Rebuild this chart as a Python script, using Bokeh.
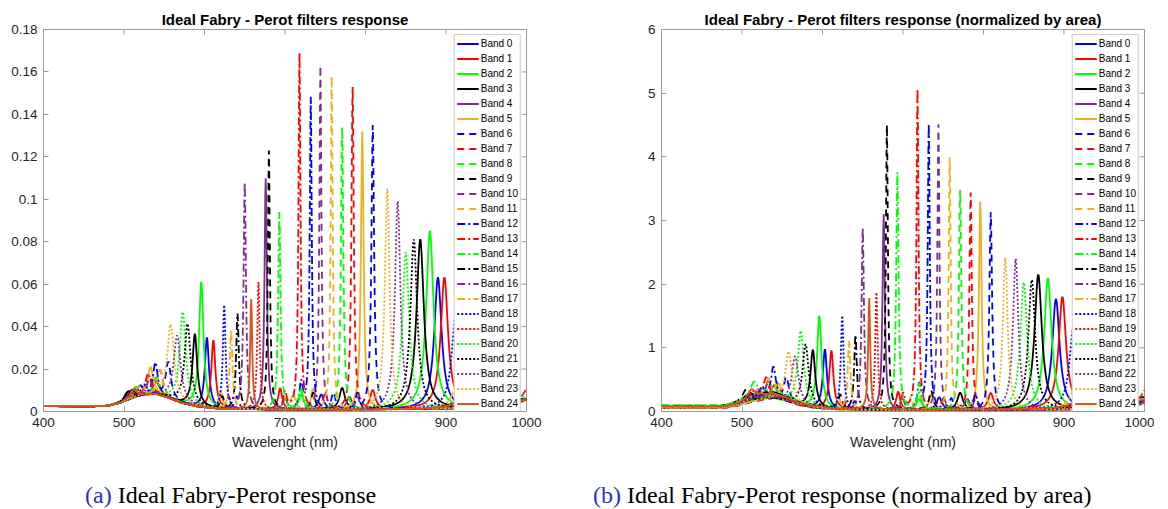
import numpy as np
from bokeh.plotting import figure
from bokeh.models import Legend, LegendItem, FixedTicker, Range1d, Div
from bokeh.layouts import column, row
from bokeh.embed import file_html
from bokeh.resources import INLINE

# ---------------- data ----------------
bands = [f"Band {i}" for i in range(25)]

BLUE, RED, GREEN, BLACK, PURPLE, ORANGE, ORED = ("#0000FF", "#FF0000", "#00FF00", "#000000",
                                                "#7E2F8E", "#EDB120", "#D95319")
band_colors = [BLUE, RED, GREEN, BLACK, PURPLE, ORANGE] * 4 + [ORED]
band_styles = (["solid"] * 6 + ["dashed"] * 6 + ["dashdot"] * 6 + ["dotted"] * 6 + ["solid"])

# peak centres (nm), peak heights (panel a) and widths (nm) per band
peak_wl = [
    [520, 603, 745, 890],
    [540, 611, 694, 809, 898],
    [515, 596, 720, 880],
    [510, 588, 771, 868],
    [507, 676, 780, 953],
    [533, 620, 735, 796],
    [555, 640, 760, 809],
    [545, 630, 750, 784],
    [540, 700, 771],
    [505, 622, 680, 735, 960],
    [532, 700, 744, 790],
    [545, 710, 758, 918],
    [539, 720, 732, 790],
    [530, 700, 718, 1008],
    [515, 693, 720, 975],
    [505, 641, 928],
    [512, 650, 938],
    [520, 633, 920],
    [525, 624.5, 912],
    [515, 667, 943],
    [573, 720, 850],
    [579, 860],
    [566, 840],
    [558, 827],
    [512, 658, 934],
]
peak_h = [
    [0.005, 0.033, 0.007, 0.062],
    [0.006, 0.032, 0.010, 0.009, 0.062],
    [0.004, 0.059, 0.007, 0.084],
    [0.004, 0.034, 0.010, 0.080],
    [0.004, 0.109, 0.006, 0.034],
    [0.013, 0.008, 0.010, 0.131],
    [0.017, 0.006, 0.008, 0.134],
    [0.012, 0.006, 0.008, 0.152],
    [0.008, 0.006, 0.133],
    [0.004, 0.006, 0.122, 0.008, 0.028],
    [0.008, 0.006, 0.162, 0.006],
    [0.012, 0.008, 0.157, 0.010],
    [0.015, 0.012, 0.147, 0.008],
    [0.010, 0.008, 0.168, 0.012],
    [0.005, 0.093, 0.010, 0.018],
    [0.004, 0.045, 0.035],
    [0.004, 0.107, 0.033],
    [0.005, 0.037, 0.035],
    [0.005, 0.049, 0.044],
    [0.004, 0.060, 0.036],
    [0.043, 0.010, 0.074],
    [0.038, 0.080],
    [0.031, 0.098],
    [0.035, 0.104],
    [0.004, 0.052, 0.039],
]
peak_w = [
    [10, 6, 8, 11],
    [10, 6, 6, 8, 11],
    [10, 6.5, 8, 11],
    [10, 7, 8, 11],
    [10, 3.5, 8, 14],
    [8, 6, 6, 4],
    [8, 6, 6, 4],
    [8, 6, 6, 3.5],
    [8, 6, 3.5],
    [10, 6, 3, 6, 14],
    [8, 6, 3, 6],
    [8, 6, 3, 12],
    [7, 5, 3, 6],
    [8, 5, 3, 15],
    [10, 3.5, 5, 15],
    [10, 4, 12],
    [10, 3.5, 13],
    [10, 4, 12],
    [10, 4, 12],
    [10, 3.5, 13],
    [9, 8, 10],
    [9, 10],
    [10, 8],
    [10, 7],
    [10, 3, 13],
]
# scale from panel (a) to panel (b) (1 / area of each band)
norm_factor = [28, 28.5, 24.6, 26.5, 28.2, 25, 23.2, 22.5, 26, 36.6, 27.7, 25.3, 30.5,
               30, 40, 26, 26.7, 29, 30, 30.7, 27, 25.5, 24.2, 23, 33.6]

# common background level (panel a)
bg_wl = [400, 460, 480, 495, 510, 525, 540, 555, 570, 590, 620, 700, 800, 900, 950, 980, 1000]
bg_val = [0.0025, 0.0024, 0.0026, 0.004, 0.0062, 0.0078, 0.0082, 0.0065, 0.0042, 0.0024,
          0.0012, 0.0008, 0.0009, 0.0012, 0.002, 0.003, 0.0055]

x_ticks = [400, 500, 600, 700, 800, 900, 1000]
y_ticks_a = [0, 0.02, 0.04, 0.06, 0.08, 0.1, 0.12, 0.14, 0.16, 0.18]
y_labels_a = ["0", "0.02", "0.04", "0.06", "0.08", "0.1", "0.12", "0.14", "0.16", "0.18"]
y_ticks_b = [0, 1, 2, 3, 4, 5, 6]

title_a = "Ideal Fabry - Perot filters response"
title_b = "Ideal Fabry - Perot filters response (normalized by area)"
x_label = "Wavelenght (nm)"

# ---------------- styling ----------------
FONT = "Liberation Sans"
AXIS_GREY = "#9a9a9a"
TEXT = "#262626"
dash_map = {"solid": "solid", "dashed": "7 5", "dashdot": "8 3 2 3", "dotted": "2 2"}
FW, FH = 483, 382
TICK = 5

wl = np.linspace(400, 1000, 1201)
background = np.interp(wl, bg_wl, bg_val)


def band_curve(i):
    y = background.copy()
    for c, h, w in zip(peak_wl[i], peak_h[i], peak_w[i]):
        y = y + h / (1.0 + ((wl - c) / (w / 2.0)) ** 2)
    return y


def style_axis(ax):
    ax.axis_line_color = AXIS_GREY
    ax.major_tick_line_color = AXIS_GREY
    ax.minor_tick_line_color = None
    ax.major_tick_in = TICK
    ax.major_tick_out = 0
    ax.major_label_text_font = FONT
    ax.major_label_text_font_size = "13.5px"
    ax.major_label_text_color = TEXT
    ax.major_label_standoff = 6


def make_panel(title, ymax, yticks, ylabels, scale, border_left, border_right):
    p = figure(frame_width=FW, frame_height=FH, output_backend="svg", toolbar_location=None,
               x_range=Range1d(400, 1000), y_range=Range1d(0, ymax),
               min_border_left=border_left, min_border_right=border_right,
               min_border_top=29, min_border_bottom=40)
    p.title.text = title
    p.title.align = "center"
    p.title.offset = -18
    p.title.text_font = FONT
    p.title.text_font_size = "15px"
    p.title.text_font_style = "bold"
    p.title.text_color = "#000000"
    p.title.standoff = 4
    p.grid.visible = False
    p.outline_line_color = AXIS_GREY
    p.background_fill_color = "white"
    p.border_fill_color = "white"

    p.xaxis.ticker = FixedTicker(ticks=x_ticks)
    p.yaxis.ticker = FixedTicker(ticks=yticks)
    p.yaxis.major_label_overrides = {t: l for t, l in zip(yticks, ylabels)}
    style_axis(p.xaxis[0])
    style_axis(p.yaxis[0])
    p.xaxis.axis_label = x_label
    p.xaxis.axis_label_text_font = FONT
    p.xaxis.axis_label_text_font_size = "14px"
    p.xaxis.axis_label_text_font_style = "normal"
    p.xaxis.axis_label_text_color = TEXT
    p.xaxis.axis_label_standoff = 4

    # tick marks on the top and right edges of the box (MATLAB "box on")
    dy = ymax * TICK / FH
    dx = 600 * TICK / FW
    p.segment(x0=x_ticks, y0=[ymax] * len(x_ticks), x1=x_ticks, y1=[ymax - dy] * len(x_ticks),
              line_color=AXIS_GREY, line_width=1)
    p.segment(x0=[1000] * len(yticks), y0=yticks, x1=[1000 - dx] * len(yticks), y1=yticks,
              line_color=AXIS_GREY, line_width=1)

    items = []
    for i in range(25):
        y = band_curve(i) * scale[i]
        r = p.line(wl, y, line_color=band_colors[i], line_width=1.8,
                   line_dash=dash_map[band_styles[i]])
        items.append(LegendItem(label=bands[i], renderers=[r]))

    leg = Legend(items=items, location="top_right")
    leg.label_text_font = FONT
    leg.label_text_font_size = "10px"
    leg.label_text_color = "#000000"
    leg.glyph_width = 22
    leg.glyph_height = 13
    leg.label_height = 13
    leg.label_width = 10
    leg.label_standoff = 2
    leg.spacing = 2
    leg.padding = 2
    leg.margin = 5
    leg.border_line_color = AXIS_GREY
    leg.background_fill_alpha = 1.0
    p.add_layout(leg)
    return p


p1 = make_panel(title_a, 0.18, y_ticks_a, y_labels_a, [1.0] * 25, 43, 60)
p2 = make_panel(title_b, 6, y_ticks_b, [str(t) for t in y_ticks_b], norm_factor, 75, 10)

caption_html = (
    '<div style="position:relative;width:1160px;height:56px;font-family:\'Liberation Serif\';'
    'font-size:24px;color:#000;">'
    '<span style="position:absolute;left:85px;top:26px;white-space:nowrap;">'
    '<span style="color:#3030c8;">(a)</span> Ideal Fabry-Perot response</span>'
    '<span style="position:absolute;left:593px;top:26px;white-space:nowrap;">'
    '<span style="color:#3030c8;">(b)</span> Ideal Fabry-Perot response (normalized by area)</span>'
    '</div>'
)
captions = Div(text=caption_html, width=1160, height=56, margin=(0, 0, 0, 0))

layout = column(row(p1, p2, spacing=0), captions, spacing=0)
open("out.html", "w").write(file_html(layout, INLINE))
